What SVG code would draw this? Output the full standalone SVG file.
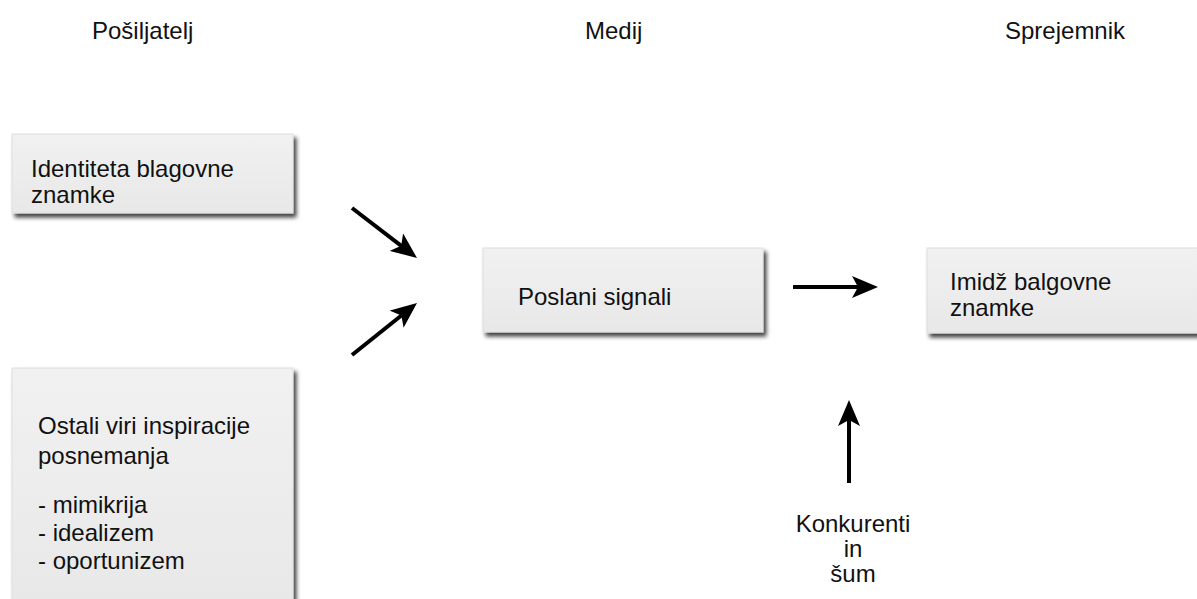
<svg xmlns="http://www.w3.org/2000/svg" width="1197" height="599" viewBox="0 0 1197 599">
  <style>
    .lbl { font-family: "Liberation Sans", Arial, sans-serif; font-size: 24px; fill: #111; }
    .box { fill: url(#boxFill); stroke: #dedede; stroke-width: 1; filter: url(#shadow); }
    .arrow { stroke: #000; stroke-width: 4; fill: none; marker-end: url(#head); }
  </style>
  <defs>
    <linearGradient id="boxFill" x1="0" y1="0" x2="0" y2="1">
      <stop offset="0" stop-color="#f1f1f1"/>
      <stop offset="1" stop-color="#e8e8e8"/>
    </linearGradient>
    <filter id="shadow" x="-5%" y="-5%" width="115%" height="125%">
      <feGaussianBlur in="SourceAlpha" stdDeviation="2"/>
      <feOffset dx="3" dy="4" result="off"/>
      <feComponentTransfer><feFuncA type="linear" slope="0.75"/></feComponentTransfer>
      <feMerge><feMergeNode/><feMergeNode in="SourceGraphic"/></feMerge>
    </filter>
    <marker id="head" viewBox="0 0 26 22" refX="16" refY="11" markerWidth="26" markerHeight="22" markerUnits="userSpaceOnUse" orient="auto">
      <path d="M0,0 L26,11 L0,22 L6,11 z" fill="#000"/>
    </marker>
  </defs>

  <!-- column headings -->
  <g id="headings">
    <text class="lbl" x="92" y="39">Pošiljatelj</text>
    <text class="lbl" x="585" y="39">Medij</text>
    <text class="lbl" x="1005" y="39">Sprejemnik</text>
  </g>

  <g id="identiteta">
    <rect class="box" x="12" y="134" width="281" height="79"/>
    <text class="lbl" x="31" y="177">Identiteta blagovne</text>
    <text class="lbl" x="31" y="203">znamke</text>
  </g>

  <g id="ostali">
    <rect class="box" x="12" y="368" width="281" height="240"/>
    <text class="lbl" x="38" y="434">Ostali viri inspiracije</text>
    <text class="lbl" x="38" y="464">posnemanja</text>
    <text class="lbl" x="38" y="513">- mimikrija</text>
    <text class="lbl" x="38" y="541">- idealizem</text>
    <text class="lbl" x="38" y="569">- oportunizem</text>
  </g>

  <g id="poslani">
    <rect class="box" x="483" y="248" width="280" height="84"/>
    <text class="lbl" x="518" y="305">Poslani signali</text>
  </g>

  <g id="imidz">
    <rect class="box" x="927" y="248" width="290" height="85"/>
    <text class="lbl" x="950" y="290">Imidž balgovne</text>
    <text class="lbl" x="950" y="316">znamke</text>
  </g>

  <g id="konkurenti">
    <text class="lbl" x="853" y="532" text-anchor="middle">Konkurenti</text>
    <text class="lbl" x="853" y="557" text-anchor="middle">in</text>
    <text class="lbl" x="853" y="582" text-anchor="middle">šum</text>
  </g>

  <g id="connectors">
    <line class="arrow" x1="352" y1="208" x2="409.1" y2="251.9"/>
    <line class="arrow" x1="352" y1="355" x2="409.2" y2="309.2"/>
    <line class="arrow" x1="793" y1="287" x2="868" y2="287"/>
    <line class="arrow" x1="849" y1="483" x2="849" y2="410"/>
  </g>
</svg>
